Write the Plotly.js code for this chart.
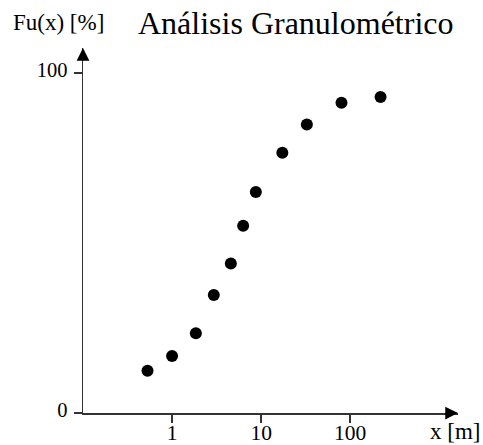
<!DOCTYPE html>
<html><head><meta charset="utf-8">
<script src="https://cdn.plot.ly/plotly-3.0.1.min.js"></script>
<style>html,body{margin:0;padding:0;background:#fff}#chart{width:483px;height:445px}</style>
</head><body><div id="chart"></div>
<script>
const sizes = [0.53, 1.0, 1.85, 2.94, 4.57, 6.28, 8.72, 17.3, 32.6, 79.8, 219];
const passing = [12.4, 16.8, 23.5, 34.7, 44.0, 55.1, 65.0, 76.6, 84.9, 91.3, 93.0];
const xTicks = [1, 10, 100];
const xTickLabels = ['1', '10', '100'];
const yTicks = [0, 100];
const yTickLabels = ['0', '100'];

const serif = 'Liberation Serif';
const trace = {
  x: sizes, y: passing, type: 'scatter', mode: 'markers',
  marker: {color: '#000', size: 12, symbol: 'circle'},
  hoverinfo: 'skip', showlegend: false
};
const layout = {
  width: 483, height: 445,
  margin: {l: 83, r: 25, t: 48, b: 32},
  paper_bgcolor: '#fff', plot_bgcolor: '#fff',
  font: {family: serif, color: '#000', size: 20},
  title: {text: 'Análisis Granulométrico', font: {family: serif, size: 32, color: '#000'},
    xref: 'container', yref: 'container', x: 138/483, xanchor: 'left', y: 1 - 23/445, yanchor: 'middle'},
  xaxis: {type: 'log', range: [-1.0, 3.21], showgrid: false, zeroline: false,
    showline: true, linecolor: '#333', linewidth: 1.5,
    tickmode: 'array', tickvals: xTicks, ticktext: xTickLabels,
    ticks: 'outside', ticklen: 8, tickwidth: 1.5, tickcolor: '#333', ticklabelstandoff: -8,
    tickfont: {family: serif, size: 21.5, color: '#000'}},
  yaxis: {range: [0, 107.4], showgrid: false, zeroline: false,
    showline: true, linecolor: '#333', linewidth: 1.5,
    tickmode: 'array', tickvals: yTicks, ticktext: yTickLabels,
    ticks: 'outside', ticklen: 8, tickwidth: 1.5, tickcolor: '#333',
    ticklabelstandoff: 2, ticklabelshift: -3,
    tickfont: {family: serif, size: 20.5, color: '#000'}},
  annotations: [
    {xref: 'paper', yref: 'paper', x: 1, y: 0, ax: -14, ay: 0, axref: 'pixel', ayref: 'pixel',
      text: '', showarrow: true, arrowhead: 2, arrowsize: 1.7, arrowwidth: 1.5, arrowcolor: '#000'},
    {xref: 'paper', yref: 'paper', x: 0, y: 1, ax: 0, ay: 14, axref: 'pixel', ayref: 'pixel',
      text: '', showarrow: true, arrowhead: 2, arrowsize: 1.7, arrowwidth: 1.5, arrowcolor: '#000'},
    {xref: 'paper', yref: 'paper', x: (11-83)/375, xanchor: 'left', y: 1 + (48-23)/365, yanchor: 'middle',
      text: 'Fu(x) [%]', showarrow: false, font: {family: serif, size: 23, color: '#000'}},
    {xref: 'paper', yref: 'paper', x: (482-83)/375, xanchor: 'right', y: -(432-413)/365, yanchor: 'middle',
      text: 'x [m]', showarrow: false, font: {family: serif, size: 23, color: '#000'}}
  ]
};
Plotly.newPlot('chart', [trace], layout, {staticPlot: true, displayModeBar: false});
</script></body></html>
